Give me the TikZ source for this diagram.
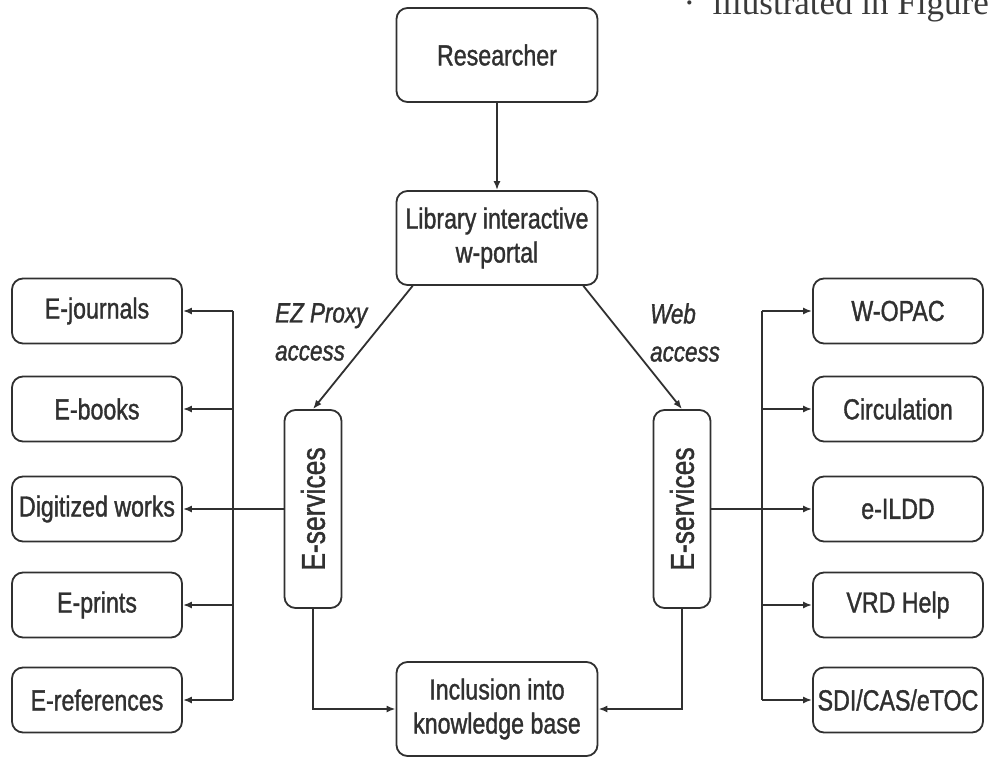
\documentclass[tikz,border=0pt]{standalone}
\usepackage{fontspec}
\setmainfont[FakeStretch=0.8,FakeBold=1.2]{Liberation Sans}
\newfontfamily\pagefont{Liberation Serif}
\usepackage{graphicx}
\usepackage{xcolor}
\usetikzlibrary{arrows.meta,positioning,calc}
\definecolor{cLine}{HTML}{303030}
\definecolor{cPage}{HTML}{3A3A3A}
\tikzset{
  blk/.style  = {rectangle, rounded corners=11pt, draw=cLine, line width=1.8pt,
                 align=center, text=cLine, inner sep=0pt,
                 font=\fontsize{29}{34}\selectfont},
  hub/.style  = {blk, minimum width=201pt, minimum height=94pt},
  item/.style = {blk, minimum width=170pt, minimum height=65pt},
  serv/.style = {blk, minimum width=57pt, minimum height=198pt,
                 font=\fontsize{33}{38}\selectfont},
  fl/.style   = {-{Latex[length=9pt,width=7pt]}, draw=cLine, line width=1.8pt},
  ln/.style   = {draw=cLine, line width=1.8pt},
  acc/.style  = {font=\fontsize{28}{38}\selectfont\itshape, text=cLine,
                 align=left, inner sep=0pt},
}
\begin{document}
\begin{tikzpicture}[x=1pt,y=-1pt]
  \useasboundingbox (0,0) rectangle (989,758);

  \node[anchor=base east, inner sep=0pt, text=cPage,
        font=\pagefont\fontsize{35}{40}\selectfont] (pgline) at (989,14) {·\ \ illustrated in Figure};

  \node[hub] (res)  at (497,55)  {Researcher};
  \node[hub] (lib)  at (497,238) {Library interactive\\w-portal};
  \node[hub] (incl) at (497,709) {Inclusion into\\knowledge base};

  \node[serv] (srvL) at (313,509) {\rotatebox{90}{E-services}};
  \node[serv] (srvR) at (682,509) {\rotatebox{90}{E-services}};

  \node[acc, anchor=north west] (ezacc)  at (275,303) {EZ Proxy\\access};
  \node[acc, anchor=north west] (webacc) at (650,303) {Web\\access};

  \node[item] (ejour)  at (97,311) {E-journals};
  \node[item] (ebook)  at (97,409) {E-books};
  \node[item] (digit)  at (97,509) {Digitized works};
  \node[item] (eprint) at (97,605) {E-prints};
  \node[item] (eref)   at (97,700) {E-references};

  \node[item] (wopac)  at (898,311) {W-OPAC};
  \node[item] (circ)   at (898,409) {Circulation};
  \node[item] (eildd)  at (898,509) {e-ILDD};
  \node[item] (vrd)    at (898,605) {VRD Help};
  \node[item] (sdi)    at (898,700) {SDI/CAS/eTOC};

  \coordinate (busL) at (233,0);
  \coordinate (busR) at (762,0);

  \draw[fl] (res) -- (lib);
  \draw[fl] ([xshift=17pt]lib.south west) -- (srvL.north);
  \draw[fl] ([xshift=-15pt]lib.south east) -- (srvR.north);

  \draw[ln] (busL |- ejour) -- (busL |- eref);
  \draw[fl] (busL |- ejour)  -- (ejour);
  \draw[fl] (busL |- ebook)  -- (ebook);
  \draw[fl] (srvL) -- (digit);
  \draw[fl] (busL |- eprint) -- (eprint);
  \draw[fl] (busL |- eref)   -- (eref);

  \draw[ln] (busR |- wopac) -- (busR |- sdi);
  \draw[fl] (busR |- wopac) -- (wopac);
  \draw[fl] (busR |- circ)  -- (circ);
  \draw[fl] (srvR) -- (eildd);
  \draw[fl] (busR |- vrd)   -- (vrd);
  \draw[fl] (busR |- sdi)   -- (sdi);

  \draw[fl] (srvL.south) |- (incl.west);
  \draw[fl] (srvR.south) |- (incl.east);
\end{tikzpicture}
\end{document}
